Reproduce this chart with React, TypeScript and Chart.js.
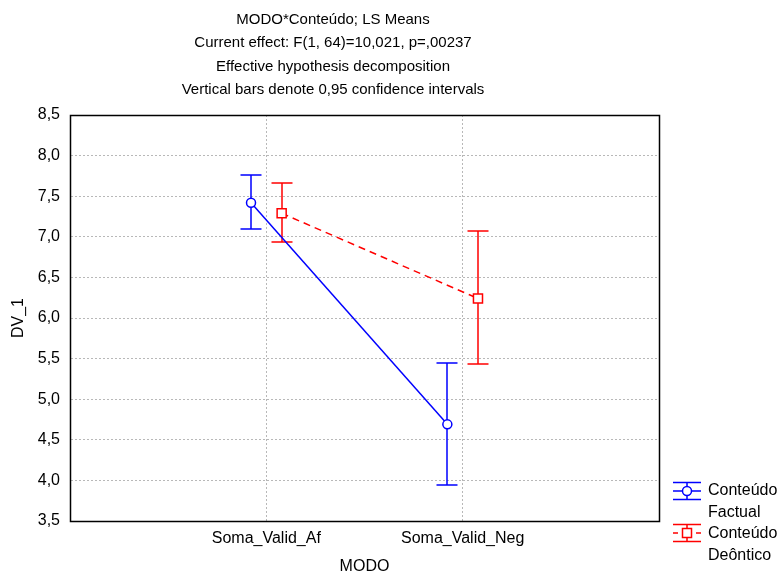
import React, { useEffect, useRef } from "react";
import { Chart, registerables } from "chart.js";

Chart.register(...registerables);

// LS means with 0.95 confidence limits, by MODO level
const categories = ["Soma_Valid_Af", "Soma_Valid_Neg"];
const factualMeans = [7.42, 4.69];
const factualLower = [7.09, 3.94];
const factualUpper = [7.76, 5.44];
const deonticMeans = [7.29, 6.24];
const deonticLower = [6.94, 5.43];
const deonticUpper = [7.66, 7.07];
const yTicks = [3.5, 4.0, 4.5, 5.0, 5.5, 6.0, 6.5, 7.0, 7.5, 8.0, 8.5];

const titleLines = [
  "MODO*Conteúdo; LS Means",
  "Current effect: F(1, 64)=10,021, p=,00237",
  "Effective hypothesis decomposition",
  "Vertical bars denote 0,95 confidence intervals",
];

const FONT = "'Liberation Sans', Arial, Helvetica, sans-serif";
const BLUE = "#0000ff";
const RED = "#ff0000";
const GRID = "#b8b8b8";
const DODGE = 0.078;
const LW = 1.5;

const fmt = (v: number) => v.toFixed(1).replace(".", ",");

const toPoints = (means: number[], shift: number) =>
  means.map((m, i) => ({ x: i + 1 + shift, y: m }));

// one entry per dataset, same order as the datasets
const intervals = [
  { lower: factualLower, upper: factualUpper, color: BLUE },
  { lower: deonticLower, upper: deonticUpper, color: RED },
];

// Whiskers with caps, drawn beneath the line and markers
const errorBars = {
  id: "errorBars",
  beforeDatasetsDraw(chart: any) {
    const { ctx, scales } = chart;
    intervals.forEach((iv, d) => {
      const pts = chart.data.datasets[d].data;
      pts.forEach((p: any, i: number) => {
        const x = Math.round(scales.x.getPixelForValue(p.x));
        const yl = Math.round(scales.y.getPixelForValue(iv.lower[i]));
        const yu = Math.round(scales.y.getPixelForValue(iv.upper[i]));
        ctx.save();
        ctx.setLineDash([]);
        ctx.lineWidth = LW;
        ctx.strokeStyle = iv.color;
        ctx.beginPath();
        ctx.moveTo(x, yu);
        ctx.lineTo(x, yl);
        ctx.moveTo(x - 10.5, yu);
        ctx.lineTo(x + 10.5, yu);
        ctx.moveTo(x - 10.5, yl);
        ctx.lineTo(x + 10.5, yl);
        ctx.stroke();
        ctx.restore();
      });
    });
  },
};

// Frame around the plot, heading lines and the legend at lower right
const decorations = {
  id: "decorations",
  afterDraw(chart: any) {
    const { ctx, chartArea } = chart;
    ctx.save();
    ctx.strokeStyle = "#000";
    ctx.lineWidth = 1.5;
    ctx.setLineDash([]);
    ctx.strokeRect(
      Math.round(chartArea.left) + 0.5,
      Math.round(chartArea.top) + 0.5,
      Math.round(chartArea.right - chartArea.left),
      Math.round(chartArea.bottom - chartArea.top)
    );

    ctx.fillStyle = "#000";
    ctx.font = `15px ${FONT}`;
    ctx.textAlign = "center";
    ctx.textBaseline = "middle";
    titleLines.forEach((t, i) => ctx.fillText(t, 333, 20 + i * 23.3));

    const drawKey = (cy: number, color: string, kind: "circle" | "square") => {
      const x0 = 673;
      const x1 = 701;
      const cx = 687;
      ctx.strokeStyle = color;
      ctx.lineWidth = LW;
      ctx.setLineDash([]);
      ctx.beginPath();
      ctx.moveTo(x0, cy - 8.5);
      ctx.lineTo(x1, cy - 8.5);
      ctx.moveTo(x0, cy + 8.5);
      ctx.lineTo(x1, cy + 8.5);
      ctx.moveTo(cx, cy - 8.5);
      ctx.lineTo(cx, cy + 8.5);
      ctx.stroke();
      ctx.beginPath();
      if (kind === "circle") {
        ctx.moveTo(x0, cy);
        ctx.lineTo(x1, cy);
      } else {
        ctx.moveTo(x0, cy);
        ctx.lineTo(x0 + 5, cy);
        ctx.moveTo(x1 - 5, cy);
        ctx.lineTo(x1, cy);
      }
      ctx.stroke();
      ctx.fillStyle = "#fff";
      ctx.beginPath();
      if (kind === "circle") {
        ctx.arc(cx, cy, 4.5, 0, Math.PI * 2);
      } else {
        ctx.rect(cx - 4.5, cy - 4.5, 9, 9);
      }
      ctx.fill();
      ctx.stroke();
    };

    drawKey(491, BLUE, "circle");
    drawKey(533, RED, "square");

    ctx.fillStyle = "#000";
    ctx.font = `16px ${FONT}`;
    ctx.textAlign = "left";
    ctx.textBaseline = "middle";
    ctx.fillText("Conteúdo", 708, 491);
    ctx.fillText("Factual", 708, 513);
    ctx.fillText("Conteúdo", 708, 534);
    ctx.fillText("Deôntico", 708, 556);
    ctx.restore();
  },
};

export default function App() {
  const canvasRef = useRef<HTMLCanvasElement | null>(null);

  useEffect(() => {
    const canvas = canvasRef.current;
    if (!canvas) return;

    const chart = new Chart(canvas, {
      type: "scatter",
      data: {
        datasets: [
          {
            label: "Conteúdo Factual",
            data: toPoints(factualMeans, -DODGE),
            showLine: true,
            borderColor: BLUE,
            borderWidth: LW,
            backgroundColor: "#fff",
            pointStyle: "circle",
            pointRadius: 4.5,
            pointBorderWidth: LW,
            pointBorderColor: BLUE,
            pointBackgroundColor: "#fff",
          },
          {
            label: "Conteúdo Deôntico",
            data: toPoints(deonticMeans, DODGE),
            showLine: true,
            borderColor: RED,
            borderWidth: LW,
            borderDash: [7, 5],
            backgroundColor: "#fff",
            pointStyle: "rect",
            pointRadius: 6.4,
            pointBorderWidth: LW,
            pointBorderColor: RED,
            pointBackgroundColor: "#fff",
          },
        ],
      },
      options: {
        responsive: false,
        animation: false,
        devicePixelRatio: 1,
        layout: { padding: { top: 115, right: 121, left: 0, bottom: 0 } },
        plugins: {
          legend: { display: false },
          tooltip: { enabled: false },
          title: { display: false },
        },
        scales: {
          x: {
            type: "linear",
            min: 0,
            max: 3,
            afterBuildTicks: (scale: any) => {
              scale.ticks = categories.map((_, i) => ({ value: i + 1 }));
            },
            afterFit: (scale: any) => {
              scale.height = 55;
            },
            ticks: {
              callback: (v: any) => categories[Number(v) - 1] ?? "",
              color: "#000",
              font: { family: FONT, size: 16 },
              padding: 8,
              maxRotation: 0,
              autoSkip: false,
            },
            grid: {
              color: GRID,
              lineWidth: 1,
              drawTicks: false,
            },
            border: { display: true, color: "#000", dash: [2, 2] },
            title: {
              display: true,
              text: "MODO",
              color: "#000",
              font: { family: FONT, size: 16 },
              padding: { top: 0, bottom: 0 },
            },
          },
          y: {
            type: "linear",
            min: 3.5,
            max: 8.5,
            afterBuildTicks: (scale: any) => {
              scale.ticks = yTicks.map((v) => ({ value: v }));
            },
            afterFit: (scale: any) => {
              scale.width = 70;
            },
            ticks: {
              callback: (v: any) => fmt(Number(v)),
              color: "#000",
              font: { family: FONT, size: 16 },
              padding: 10,
            },
            grid: {
              color: GRID,
              lineWidth: 1,
              drawTicks: false,
            },
            border: { display: true, color: "#000", dash: [2, 2] },
            title: {
              display: true,
              text: "DV_1",
              color: "#000",
              font: { family: FONT, size: 16 },
              padding: { top: 9, bottom: 0 },
            },
          },
        },
      },
      plugins: [errorBars, decorations],
    } as any);

    return () => chart.destroy();
  }, []);

  return (
    <div style={{ position: "absolute", left: 0, top: 0, width: 780, height: 576, background: "#fff" }}>
      <canvas ref={canvasRef} width={780} height={576} style={{ display: "block" }} />
    </div>
  );
}
